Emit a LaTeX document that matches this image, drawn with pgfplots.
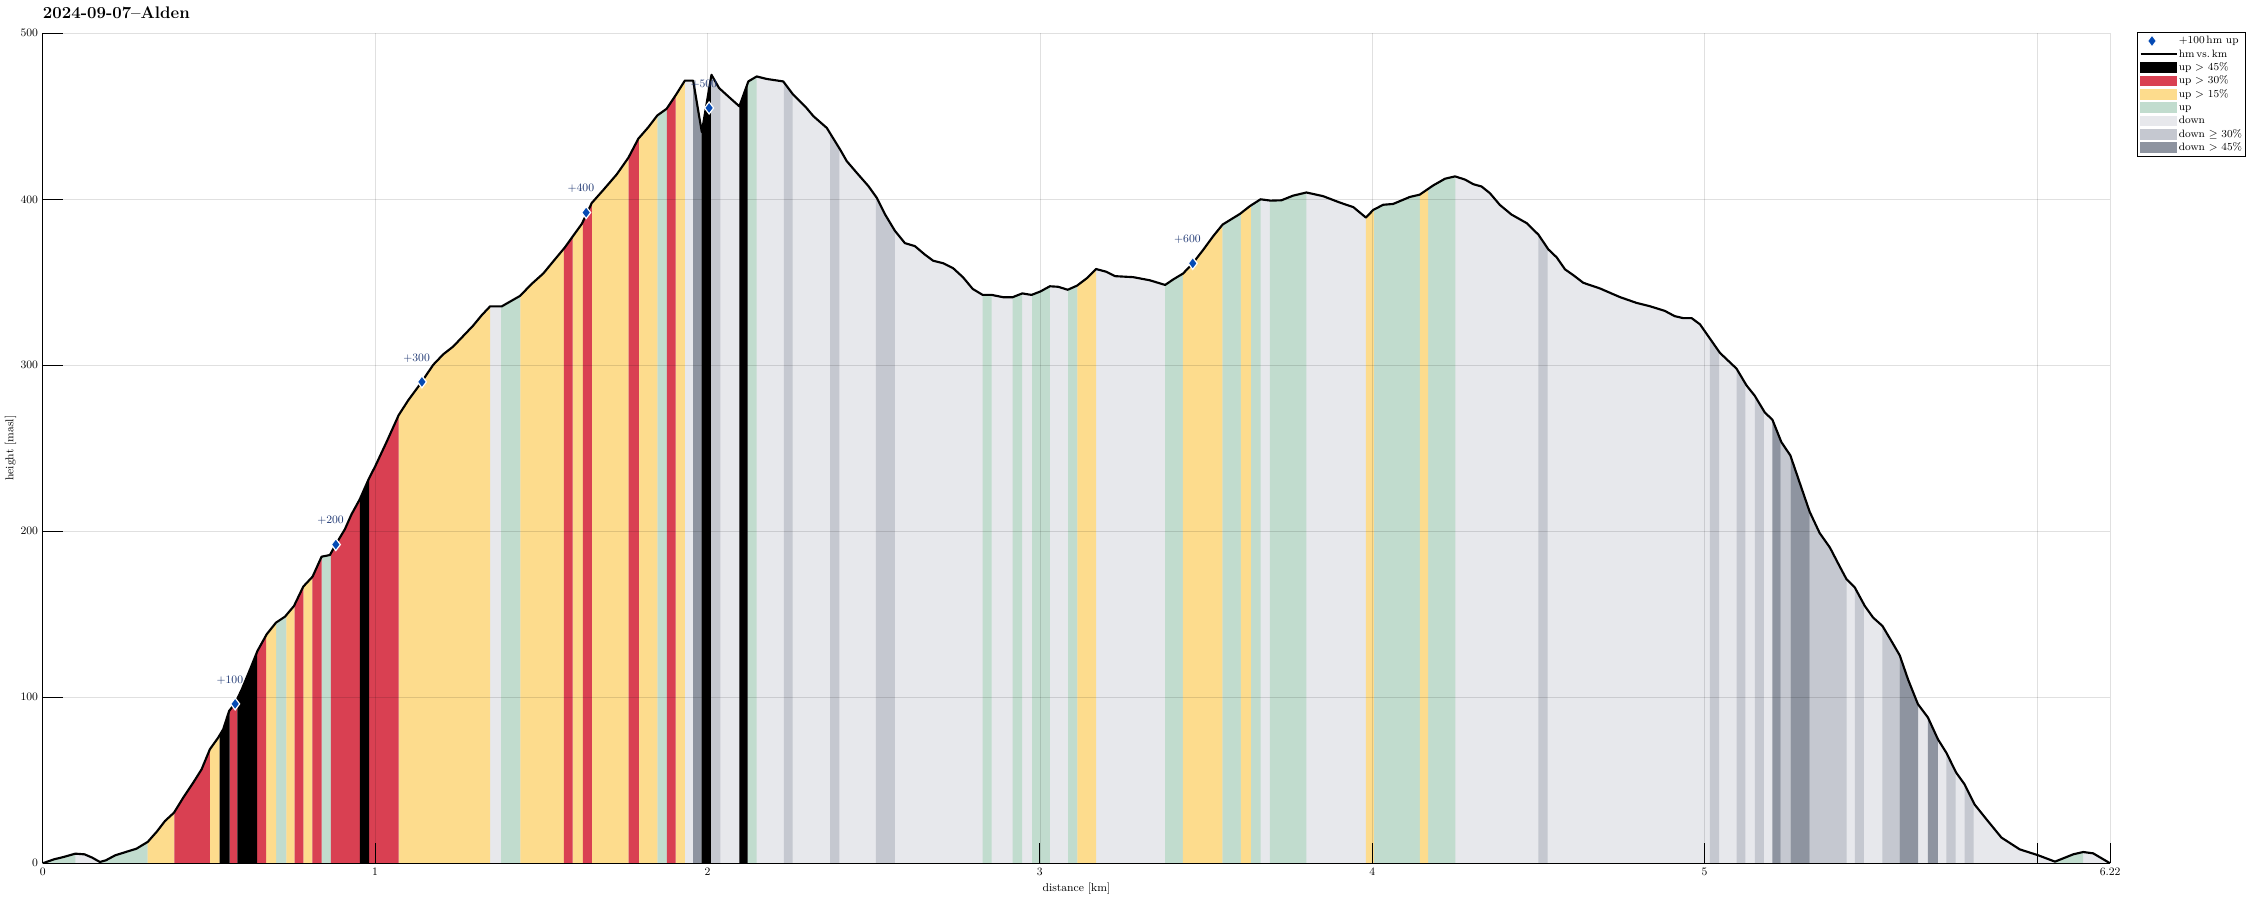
\documentclass[border=0pt]{standalone}
\usepackage{fontspec}
\usepackage{pgfplots}
\usepackage{pgfplotstable}
\pgfplotsset{compat=1.18}

\definecolor{cBlk}{RGB}{0,0,0}
\definecolor{cRed}{RGB}{217,64,82}
\definecolor{cYel}{RGB}{253,220,141}
\definecolor{cGrn}{RGB}{193,220,206}
\definecolor{cDwn}{RGB}{231,232,236}
\definecolor{cMid}{RGB}{197,200,208}
\definecolor{cDrk}{RGB}{142,148,160}
\definecolor{mBlue}{RGB}{4,74,180}
\definecolor{lblBlue}{RGB}{30,55,115}

% elevation profile, km vs m
\pgfplotstableread{
d h
0 0
0.034 2.4
0.063 3.8
0.098 5.8
0.126 5.4
0.149 3.4
0.172 0.8
0.190 1.8
0.218 4.8
0.253 7.0
0.282 8.8
0.316 12.9
0.343 19
0.368 25.5
0.395 30.5
0.423 39.6
0.453 48.6
0.478 56.6
0.503 68.7
0.528 75.7
0.543 80.7
0.561 91.8
0.579 96.4
0.599 104.8
0.624 116.9
0.646 127.9
0.674 138
0.702 145
0.729 148.6
0.756 155
0.784 166.7
0.812 172.7
0.839 184.7
0.864 185.7
0.882 192.2
0.909 201.2
0.929 210.2
0.954 219.3
0.982 232
1.000 239
1.035 254
1.071 270
1.100 279
1.135 288.5
1.175 300.3
1.205 306.6
1.235 311.3
1.265 317.6
1.295 323.9
1.321 330.2
1.346 335.5
1.381 335.5
1.436 341.8
1.471 349
1.506 355.3
1.541 363.8
1.571 371
1.596 378
1.622 385.2
1.652 397.8
1.687 405.7
1.727 415
1.762 425
1.792 436.5
1.822 443.4
1.849 450.5
1.877 454.5
1.907 463.5
1.932 471.5
1.957 471.5
1.983 440.5
2.012 475
2.035 467
2.068 461
2.096 456
2.123 471
2.148 474
2.178 472.5
2.228 471
2.258 463
2.298 455
2.319 450
2.359 443
2.399 430
2.419 423
2.449 416
2.484 408
2.509 401
2.534 391
2.564 381
2.594 373.6
2.624 371.8
2.654 366.7
2.679 363
2.709 361.5
2.739 358.5
2.769 353
2.798 346
2.828 342.4
2.855 342.4
2.890 341
2.918 341
2.947 343.3
2.975 342.4
3.002 344.5
3.030 347.6
3.055 347.3
3.084 345.5
3.112 348
3.141 352.4
3.169 358
3.199 356.4
3.226 353.7
3.281 353.1
3.331 351.2
3.377 348.4
3.401 351.7
3.431 355.3
3.460 361.4
3.492 369.7
3.522 377.9
3.550 384.8
3.602 391.2
3.632 395.9
3.664 400
3.694 399.2
3.727 399.4
3.762 402.2
3.802 404.1
3.852 401.9
3.903 398
3.943 395.3
3.981 389
4.003 393.6
4.033 396.7
4.063 397.2
4.113 401.4
4.143 402.8
4.183 408.3
4.219 412.4
4.249 413.8
4.279 411.9
4.304 409.1
4.329 407.7
4.354 403.7
4.384 396.6
4.419 390.8
4.465 385.6
4.500 378.7
4.530 369.8
4.555 365
4.580 357.8
4.605 354.3
4.635 349.7
4.685 346.3
4.745 341.1
4.795 337.6
4.835 335.6
4.880 332.8
4.910 329.6
4.936 328.4
4.961 328.4
4.986 324.7
5.016 316.1
5.046 307.5
5.096 298
5.126 287.9
5.151 281.6
5.181 271.6
5.204 267.2
5.231 253.7
5.258 245.7
5.286 229.3
5.316 211.8
5.346 199
5.377 190.2
5.406 179
5.427 171.1
5.452 166.1
5.482 155
5.507 148
5.535 143
5.562 133.9
5.587 125.3
5.612 110.8
5.642 95.8
5.672 87.8
5.702 74.7
5.727 66.7
5.757 54.6
5.782 47.6
5.812 35.5
5.848 26.5
5.893 15.5
5.948 8.4
6.004 4.8
6.054 1
6.109 5.4
6.139 6.8
6.169 6
6.22 0
}\prof

\pgfplotsset{bandleg/.style={legend image code/.code={\fill[#1] (0pt,-3.6pt) rectangle (27pt,3.6pt);}}}

\begin{document}
\begin{tikzpicture}
\begin{axis}[
    name=ax,
    scale only axis,
    width=1550.5pt, height=622.5pt,
    xmin=0, xmax=6.22, ymin=0, ymax=500,
    axis x line*=bottom, axis y line*=left,
    axis line style={-, line width=0.6pt},
    axis on top,
    tick align=inside,
    major tick length=15pt,
    tick style={black, line width=0.6pt},
    xtick={0,1,2,3,4,5,6,6.22},
    xticklabels={0,1,2,3,4,5,,6.22},
    ytick={0,100,...,500},
    grid=major,
    grid style={black, opacity=0.12, line width=0.5pt},
    ticklabel style={font=\fontsize{8.5}{10}\selectfont},
    /pgf/number format/assume math mode=true,
    xlabel={distance [km]},
    ylabel={height [masl]},
    label style={font=\fontsize{8.5}{10}\selectfont},
    xlabel style={at={(axis description cs:0.5,-0.0301)}, anchor=center},
    ylabel style={at={(axis description cs:-0.0155,0.5)}, anchor=center},
    title={2024-09-07–Alden},
    title style={at={(axis description cs:0,1.0177)}, anchor=base west, inner sep=0pt,
        yshift=-6pt, font=\bfseries\fontsize{12.6}{15}\selectfont},
    legend cell align=left,
    legend style={at={(axis description cs:1.0131,1.0016)}, anchor=north west,
        draw=black, line width=0.5pt, fill=white,
        font=\fontsize{8}{9.5}\selectfont,
        inner xsep=1.5pt, inner ysep=1.5pt, row sep=0pt,
        nodes={inner sep=0.9pt, text height=6.2pt, text depth=2pt}},
]
% legend entries
\addlegendimage{only marks, mark=diamond*, mark size=4.5pt, mark options={fill=mBlue, draw=white, line width=0.9pt}}
\addlegendentry{+100\,hm up}
\addlegendimage{legend image code/.code={\draw[black, line width=1.6pt] (0pt,0pt) -- (27pt,0pt);}}
\addlegendentry{hm\,vs.\,km}
\addlegendimage{bandleg=cBlk}
\addlegendentry{up $>$ 45\%}
\addlegendimage{bandleg=cRed}
\addlegendentry{up $>$ 30\%}
\addlegendimage{bandleg=cYel}
\addlegendentry{up $>$ 15\%}
\addlegendimage{bandleg=cGrn}
\addlegendentry{up}
\addlegendimage{bandleg=cDwn}
\addlegendentry{down}
\addlegendimage{bandleg=cMid}
\addlegendentry{down $\geq$ 30\%}
\addlegendimage{bandleg=cDrk}
\addlegendentry{down $>$ 45\%}

% base: down
\addplot[fill=cDwn, draw=none, forget plot] coordinates {(0,480) (6.22,480)} \closedcycle;

% slope bands (start at 480, end at 0), cut to the profile below
\addplot[const plot, fill=cGrn, draw=none, forget plot] coordinates {
(0,480)(0.098,0)(0.172,480)(0.316,0)(0.702,480)(0.733,0)(0.839,480)(0.867,0)
(1.379,480)(1.437,0)(1.849,480)(1.878,0)(2.121,480)(2.148,0)(2.828,480)(2.855,0)
(2.918,480)(2.947,0)(2.977,480)(3.030,0)(3.085,480)(3.113,0)(3.377,480)(3.430,0)
(3.549,480)(3.605,0)(3.635,480)(3.664,0)(3.692,480)(3.802,0)(4.005,480)(4.143,0)
(4.168,480)(4.250,0)(6.054,480)(6.139,0)} \closedcycle;

\addplot[const plot, fill=cYel, draw=none, forget plot] coordinates {
(0.316,480)(0.396,0)(0.503,480)(0.532,0)(0.672,480)(0.702,0)(0.733,480)(0.758,0)
(0.784,480)(0.811,0)(1.071,480)(1.346,0)(1.437,480)(1.568,0)(1.594,480)(1.625,0)
(1.652,480)(1.763,0)(1.794,480)(1.849,0)(1.904,480)(1.932,0)(3.113,480)(3.169,0)
(3.430,480)(3.549,0)(3.605,480)(3.635,0)(3.981,480)(4.005,0)(4.143,480)(4.168,0)} \closedcycle;

\addplot[const plot, fill=cRed, draw=none, forget plot] coordinates {
(0.396,480)(0.503,0)(0.562,480)(0.586,0)(0.645,480)(0.672,0)(0.758,480)(0.784,0)
(0.811,480)(0.839,0)(0.867,480)(0.954,0)(0.982,480)(1.071,0)(1.568,480)(1.594,0)
(1.625,480)(1.652,0)(1.763,480)(1.794,0)(1.878,480)(1.904,0)} \closedcycle;

\addplot[const plot, fill=cBlk, draw=none, forget plot] coordinates {
(0.532,480)(0.562,0)(0.586,480)(0.645,0)(0.954,480)(0.982,0)(1.982,480)(2.011,0)
(2.096,480)(2.121,0)} \closedcycle;

\addplot[const plot, fill=cMid, draw=none, forget plot] coordinates {
(2.011,480)(2.039,0)(2.230,480)(2.256,0)(2.369,480)(2.397,0)(2.507,480)(2.564,0)
(4.500,480)(4.528,0)(5.016,480)(5.044,0)(5.096,480)(5.123,0)(5.151,480)(5.178,0)
(5.229,480)(5.259,0)(5.316,480)(5.427,0)(5.452,480)(5.479,0)(5.535,480)(5.587,0)
(5.727,480)(5.755,0)(5.782,480)(5.809,0)} \closedcycle;

\addplot[const plot, fill=cDrk, draw=none, forget plot] coordinates {
(1.957,480)(1.982,0)(5.204,480)(5.229,0)(5.259,480)(5.316,0)(5.587,480)(5.642,0)
(5.672,480)(5.702,0)} \closedcycle;

% blank out everything above the profile
\addplot[fill=white, draw=none, forget plot] table[x=d, y=h] {\prof}
    -- (rel axis cs:1,1) -- (rel axis cs:0,1) -- cycle;

% profile line
\addplot[black, line width=1.6pt, line join=round, forget plot] table[x=d, y=h] {\prof};

% +100 hm markers
\addplot[only marks, mark=diamond*, mark size=4.5pt,
    mark options={fill=mBlue, draw=white, line width=0.9pt},
    point meta=explicit symbolic, nodes near coords,
    nodes near coords style={font=\fontsize{8.5}{10}\selectfont, text=lblBlue,
        anchor=center, xshift=-4pt, yshift=18pt},
    forget plot] coordinates {
(0.579,96) [+100] (0.882,192) [+200] (1.141,290) [+300]
(1.635,392) [+400] (2.005,455) [+500] (3.460,361.4) [+600]};
\end{axis}
\path (ax.south west) ++(-32.03pt,-27.53pt) rectangle ++(1689pt,675pt);
\end{tikzpicture}
\end{document}
